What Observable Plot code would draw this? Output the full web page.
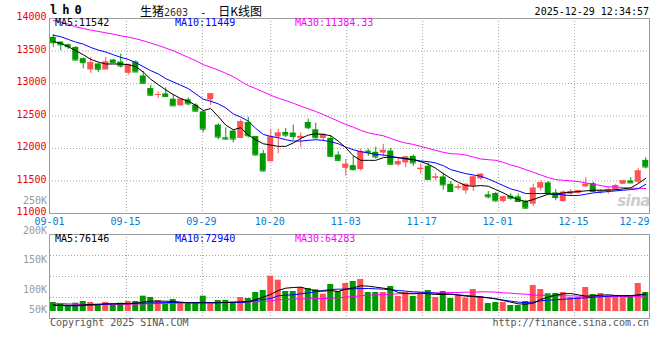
<!DOCTYPE html>
<html><head><meta charset="utf-8">
<script src="https://cdn.jsdelivr.net/npm/d3@7"></script>
<script src="https://cdn.jsdelivr.net/npm/@observablehq/plot@0.6"></script>
<style>
html,body{margin:0;padding:0;background:#fff;}
#wrap{position:relative;width:660px;height:360px;overflow:hidden;background:#fff;font-family:"DejaVu Sans Mono",monospace;font-size:10px;}
#wrap svg{position:absolute;left:0;}
.t{position:absolute;white-space:pre;line-height:1;}
</style></head><body><div id="wrap"></div>
<script>
const dates = ["09-01","09-02","09-03","09-04","09-05","09-08","09-09","09-10","09-11","09-12",
"09-15","09-16","09-17","09-18","09-19","09-22","09-23","09-24","09-25","09-26",
"09-29","09-30","10-09","10-10","10-13","10-14","10-15","10-16","10-17","10-20",
"10-21","10-22","10-23","10-24","10-27","10-28","10-29","10-30","10-31","11-03",
"11-04","11-05","11-06","11-07","11-10","11-11","11-12","11-13","11-14","11-17",
"11-18","11-19","11-20","11-21","11-24","11-25","11-26","11-27","11-28","12-01",
"12-02","12-03","12-04","12-05","12-08","12-09","12-10","12-11","12-12","12-15",
"12-16","12-17","12-18","12-19","12-22","12-23","12-24","12-25","12-26","12-29"];

const open = [13709,13637,13596,13555,13382,13208,13300,13208,13361,13330,
13157,13330,13116,12922,12820,12840,12758,12656,12748,12666,
12564,12748,12360,12165,12268,12155,12400,12186,11920,11797,
12176,12247,12237,12155,12400,12288,12155,12155,11900,11695,
11736,11675,11961,11941,11930,11961,11746,11777,11879,11675,
11726,11542,11562,11450,11389,11348,11419,11532,11286,11307,
11184,11266,11256,11184,11143,11389,11470,11317,11184,11297,
11307,11409,11460,11327,11348,11358,11450,11501,11481,11818];
const close = [13627,13596,13566,13361,13320,13320,13218,13330,13320,13269,
13290,13177,13003,12820,12830,12799,12656,12758,12687,12574,
12298,12840,12176,12145,12145,12411,12196,11900,11654,12176,
12237,12206,12186,12186,12319,12165,12217,11879,11818,11757,
11675,11951,11941,11869,11971,11757,11797,11869,11777,11695,
11522,11562,11440,11338,11409,11450,11562,11603,11256,11195,
11256,11235,11184,11082,11389,11470,11307,11246,11327,11338,
11348,11450,11338,11348,11368,11430,11501,11470,11654,11716];
const high = [13749,13637,13606,13566,13392,13402,13310,13402,13371,13453,
13300,13351,13187,12973,12871,12932,12830,12768,12779,12687,
12574,12840,12380,12319,12278,12441,12482,12186,11971,12288,
12298,12309,12360,12237,12452,12390,12227,12196,11951,11828,
11879,11992,11992,12022,12063,12002,11848,11879,11900,11767,
11777,11613,11624,11491,11450,11450,11573,11613,11338,11327,
11266,11307,11297,11205,11450,11501,11491,11368,11348,11368,
11358,11552,11481,11368,11409,11450,11511,11552,11695,11859];
const low = [13555,13504,13525,13351,13228,13157,13167,13208,13310,13239,
13126,13167,12993,12799,12768,12789,12656,12646,12656,12564,
12247,12666,12135,12125,12084,12155,12165,11889,11644,11797,
11920,12165,12125,12012,12288,12145,12104,11859,11797,11573,
11654,11654,11879,11838,11869,11746,11726,11705,11726,11603,
11522,11501,11358,11327,11358,11297,11338,11511,11225,11174,
11164,11205,11174,11072,11102,11348,11297,11195,11174,11266,
11297,11399,11327,11297,11297,11348,11450,11460,11460,11685];

const ma5 = [13647,13617,13566,13504,13443,13371,13330,13300,13300,13300,
13290,13259,13177,13065,12983,12901,12830,12768,12727,12666,
12584,12615,12492,12360,12288,12319,12206,12135,12073,12053,
12033,12033,12084,12155,12206,12227,12217,12196,12114,12012,
11889,11818,11818,11818,11859,11869,11859,11848,11828,11797,
11757,11695,11613,11542,11481,11430,11419,11430,11419,11368,
11317,11256,11215,11184,11215,11256,11297,11297,11317,11327,
11338,11348,11358,11358,11358,11365,11380,11395,11460,11542];
const ma10 = [13744,13719,13678,13637,13606,13555,13514,13484,13443,13402,
13371,13320,13259,13198,13147,13075,13024,12973,12922,12840,
12758,12727,12687,12625,12533,12482,12421,12309,12217,12186,
12165,12135,12114,12114,12125,12135,12125,12104,12073,12022,
11981,11951,11930,11910,11900,11879,11859,11838,11828,11808,
11797,11777,11736,11675,11644,11613,11593,11573,11532,11481,
11430,11378,11348,11307,11307,11307,11307,11297,11286,11276,
11276,11297,11317,11327,11338,11348,11358,11368,11380,11449];
const ma30 = [13969,13944,13913,13872,13847,13821,13801,13780,13760,13734,
13714,13688,13658,13622,13586,13545,13504,13453,13402,13351,
13290,13249,13208,13157,13106,13034,12968,12922,12871,12820,
12773,12738,12697,12651,12610,12569,12523,12472,12421,12370,
12329,12278,12242,12217,12196,12155,12114,12084,12063,12033,
12002,11971,11941,11920,11915,11900,11869,11838,11828,11818,
11787,11746,11716,11675,11634,11593,11552,11522,11511,11501,
11491,11470,11450,11430,11409,11409,11399,11389,11389,11384.33];

const volume = [39200,33400,26100,36200,43500,39200,30500,39200,27600,36200,
43500,43500,66700,60900,47900,33400,52200,39200,36200,36200,
66700,33400,47900,47900,40600,60900,56600,82700,91400,153700,
136300,87000,87000,104400,100100,94300,75400,117500,87000,121800,
130500,139200,82700,82700,82700,108800,65300,82700,65300,78300,
91400,60900,87000,56600,68200,58000,95700,65300,34800,39200,
39200,26100,26100,43500,113100,95700,76900,78300,82700,60900,
60900,104400,74000,78300,66700,66700,62400,62400,121800,82700];
const vma5 = [29000,27600,27600,26100,29000,30500,31900,33400,33400,33400,
33400,36200,40600,45000,45000,45000,43500,40600,37700,37700,
37700,37700,37700,39200,40600,42100,43500,52200,62400,74000,
91400,101500,104400,105900,97200,89900,88500,91400,87000,97200,
103000,111700,110200,105900,101500,97200,82700,78300,76900,79800,
76900,74000,74000,75400,71100,66700,65300,62400,59500,55100,
47900,40600,33400,31900,36200,52200,62400,71100,76900,78300,
72500,66700,68200,71100,72500,69600,68200,68200,72500,76146];
const vma10 = [26100,26100,24700,24700,26100,27600,29000,31900,33400,34800,
34800,36200,36200,37700,37700,39200,39200,39200,39200,39200,
39200,39200,39200,39200,39200,39200,42100,47900,52200,56600,
68200,71100,72500,76900,81200,85600,91400,95700,97200,97200,
98600,100100,100100,98600,97200,94300,91400,88500,85600,84100,
82700,79800,76900,75400,72500,69600,66700,63800,59500,55100,
49300,45000,40600,39200,40600,46400,49300,50800,53700,55100,
58000,59500,62400,63800,66700,68200,69600,69600,71100,72940];
const vma30 = [36200,34800,33400,31900,30500,30500,30500,30500,30500,31900,
31900,31900,33400,33400,34800,36200,36200,36200,37700,37700,
37700,37700,37700,39200,39200,39200,40600,42100,43500,46400,
50800,52200,53700,55100,55100,56600,56600,58000,59500,62400,
65300,68200,71100,72500,74000,75400,76900,78300,79800,79800,
79800,81200,81200,82700,82700,84100,84100,85600,85600,84100,
81200,79800,76900,75400,71100,71100,69600,69600,68200,68200,
66700,66700,66700,66700,65300,65300,65300,65300,63800,64283];

const priceTicks = [14000,13500,13000,12500,12000,11500,11000];
const volTickLabels = ["250K","200K","150K","100K","50K"];
const dateTicks = ["09-01","09-15","09-29","10-20","11-03","11-17","12-01","12-15","12-29"];

const code = "lh0";
const stamp = "2025-12-29 12:34:57";

const rows = dates.map((d, i) => ({date: d, open: open[i], high: high[i], low: low[i], close: close[i],
  ma5: ma5[i], ma10: ma10[i], ma30: ma30[i], volume: volume[i], vma5: vma5[i], vma10: vma10[i], vma30: vma30[i]}));

const RED = "#ff5252", GREEN = "#009a00", BLUE_T = "#0a7bd0";
const GRID = "#a6a6a6", BORDER = "#9c9c9c";
const col = d => d.close >= d.open ? RED : GREEN;
const FONT = "'DejaVu Sans Mono', monospace";
const baseStyle = {background: "transparent", fontFamily: FONT, fontSize: "10px", overflow: "visible"};
const wrap = document.getElementById("wrap");

function label(text, x, y, anchor, style) {
  const el = document.createElement("div");
  el.className = "t";
  el.textContent = text;
  el.style.left = x + "px";
  el.style.top = y + "px";
  const tx = anchor === "end" ? "-100%" : anchor === "middle" ? "-50%" : "0";
  el.style.transform = `translate(${tx},-50%)`;
  Object.assign(el.style, style || {});
  wrap.appendChild(el);
  return el;
}
function place(svg, top) { svg.style.top = top + "px"; wrap.appendChild(svg); }

// watermark (behind)
label("sina", 650, 201, "end", {fontFamily: "'DejaVu Sans', sans-serif", fontWeight: "bold", fontStyle: "italic", fontSize: "15px", color: "#cdcdcd", letterSpacing: "-0.5px"});

// grid overlay: price panel
const gridPrice = Plot.plot({
  width: 660, height: 231, marginTop: 18, marginBottom: 18, marginLeft: 50, marginRight: 10,
  x: {type: "point", domain: dates, padding: 0, axis: null},
  style: baseStyle,
  marks: [
    Plot.ruleX(dateTicks.slice(1, -1), {x: d => d, stroke: GRID, strokeDasharray: "1,2"}),
    Plot.text(dateTicks.slice(0, -1), {x: d => d, text: d => d, frameAnchor: "bottom", dy: 11, fill: BLUE_T, dx: -1}),
    Plot.text(dateTicks.slice(-1), {x: d => d, text: d => d, frameAnchor: "bottom", dy: 11, fill: BLUE_T, textAnchor: "end", dx: -1})
  ]
});
place(gridPrice, 0);

// grid overlay: volume panel
const gridVol = Plot.plot({
  width: 660, height: 100, marginTop: 9, marginBottom: 7, marginLeft: 50, marginRight: 10,
  x: {type: "point", domain: dates, padding: 0, axis: null},
  y: {domain: [0, 4], axis: null},
  style: baseStyle,
  marks: [
    Plot.ruleX(dateTicks.slice(1, -1), {x: d => d, stroke: GRID, strokeDasharray: "1,2"}),
    Plot.ruleY([1, 2, 3], {stroke: GRID, strokeDasharray: "1,2"})
  ]
});
place(gridVol, 225);

// price panel
const price = Plot.plot({
  width: 660, height: 231, marginTop: 18, marginBottom: 18, marginLeft: 49, marginRight: 11,
  x: {type: "band", domain: dates, padding: 0, axis: null},
  y: {domain: [11000, 14000], axis: null},
  style: baseStyle,
  marks: [
    Plot.ruleY(priceTicks.slice(1, -1), {stroke: GRID, strokeDasharray: "1,2"}),
    Plot.ruleX(rows, {x: "date", y1: "low", y2: "high", stroke: col}),
    Plot.barY(rows, {x: "date", y1: "open", y2: "close", fill: col, insetLeft: 0.75, insetRight: 0.75}),
    Plot.tickY(rows, {x: "date", y: "close", stroke: col, insetLeft: 0.75, insetRight: 0.75}),
    Plot.lineY(rows, {x: "date", y: "ma30", stroke: "#ff00ff", strokeWidth: 1}),
    Plot.lineY(rows, {x: "date", y: "ma10", stroke: "#0000ff", strokeWidth: 1}),
    Plot.lineY(rows, {x: "date", y: "ma5", stroke: "#000000", strokeWidth: 1}),
    Plot.text(priceTicks, {frameAnchor: "left", y: d => d, text: d => String(d), textAnchor: "end", dx: -3, dy: -1.5, fill: "#ee0000"}),
    Plot.frame({stroke: BORDER})
  ]
});
place(price, 0);

// volume panel
const vol = Plot.plot({
  width: 660, height: 100, marginTop: 9, marginBottom: 7, marginLeft: 49, marginRight: 11,
  x: {type: "band", domain: dates, padding: 0, axis: null},
  y: {domain: [0, 335000], range: [86, 9], axis: null},
  style: baseStyle,
  marks: [
    Plot.barY(rows, {x: "date", y: "volume", fill: col, insetLeft: 0.75, insetRight: 0.75}),
    Plot.lineY(rows, {x: "date", y: "vma30", stroke: "#ff00ff", strokeWidth: 1}),
    Plot.lineY(rows, {x: "date", y: "vma10", stroke: "#0000ff", strokeWidth: 1}),
    Plot.lineY(rows, {x: "date", y: "vma5", stroke: "#000000", strokeWidth: 1}),
    Plot.frame({stroke: BORDER})
  ]
});
place(vol, 225);

// header texts
label(code, 50, 10, "start", {fontWeight: "bold", fontSize: "12px", letterSpacing: "5px", color: "#000"});
const tEl = label("", 140, 11, "start", {color: "#000"});
tEl.innerHTML = '<span style="font-family:\'Noto Sans CJK SC\';font-size:12px">生猪</span><span style="color:#333">2603</span>  -  <span style="font-family:\'Noto Sans CJK SC\';font-size:12px">日K线图</span>';
label(stamp, 649, 12, "end", {color: "#000"});

// legends
label(`MA5:${ma5[ma5.length-1]}`, 55, 23, "start", {color: "#000"});
label(`MA10:${ma10[ma10.length-1]}`, 175, 23, "start", {color: "#0000ff"});
label(`MA30:${ma30[ma30.length-1].toFixed(2)}`, 295, 23, "start", {color: "#ff00ff"});
label(`MA5:${vma5[vma5.length-1]}`, 55, 238.5, "start", {color: "#000"});
label(`MA10:${vma10[vma10.length-1]}`, 175, 238.5, "start", {color: "#0000ff"});
label(`MA30:${vma30[vma30.length-1]}`, 295, 238.5, "start", {color: "#ff00ff"});

// volume axis labels (as positioned by the source chart)
const volLabelY = [200.5, 230.5, 259.7, 290, 310.3];
volTickLabels.forEach((t, i) => label(t, 47, volLabelY[i], "end", {color: "#9a9a9a"}));

// footer
label("Copyright 2025 SINA.COM", 50, 323, "start", {color: "#555"});
label("http://finance.sina.com.cn", 649, 323, "end", {color: "#555"});
</script></body></html>
